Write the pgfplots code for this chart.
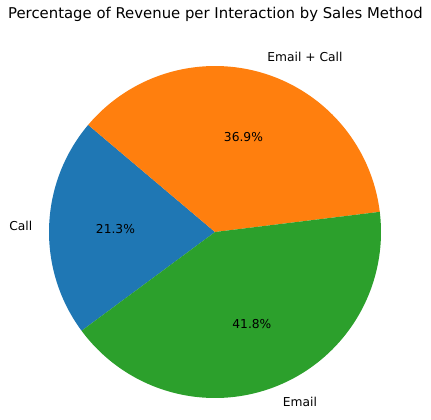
\documentclass[border=0pt]{standalone}
\usepackage{pgfplots}
\pgfplotsset{compat=1.18}
\usepackage{fontspec}
\setmainfont{DejaVu Sans}
\definecolor{c0}{HTML}{1F77B4}
\definecolor{c1}{HTML}{FF7F0E}
\definecolor{c2}{HTML}{2CA02C}
\begin{document}
\begin{tikzpicture}
% shares in percent
\def\pCall{21.3}
\def\pEC{36.9}
\def\pEmail{41.8}
\pgfmathsetmacro\aA{216.5}
\pgfmathsetmacro\aB{\aA-\pCall*3.6}
\pgfmathsetmacro\aC{\aB-\pEC*3.6}
\pgfmathsetmacro\aD{\aC-\pEmail*3.6}
\pgfmathsetmacro\mA{(\aA+\aB)/2}
\pgfmathsetmacro\mB{(\aB+\aC)/2}
\pgfmathsetmacro\mC{(\aC+\aD)/2}
\begin{axis}[hide axis, scale only axis, width=323.25pt, height=314.25pt,
  xmin=-1.2952, xmax=1.3012, ymin=-1.1265, ymax=1.3976, clip=false]
\path (rel axis cs:0,0) rectangle (rel axis cs:1,1);
\addplot[fill=c0, draw=none, domain=\aB:\aA, samples=90, variable=\t] ({cos(\t)},{sin(\t)}) -- (axis cs:0,0) -- cycle;
\addplot[fill=c1, draw=none, domain=\aC:\aB, samples=120, variable=\t] ({cos(\t)},{sin(\t)}) -- (axis cs:0,0) -- cycle;
\addplot[fill=c2, draw=none, domain=\aD:\aC, samples=140, variable=\t] ({cos(\t)},{sin(\t)}) -- (axis cs:0,0) -- cycle;
\node[font=\fontsize{9.2}{11}\selectfont, anchor=east, inner sep=0pt] at (axis cs:{1.1*cos(\mA)},{1.1*sin(\mA)}) {Call};
\node[font=\fontsize{9.2}{11}\selectfont, anchor=west, inner sep=0pt] at (axis cs:{1.1*cos(\mB)},{1.1*sin(\mB)}) {Email + Call};
\node[font=\fontsize{9.2}{11}\selectfont, anchor=west, inner sep=0pt] at (axis cs:{1.1*cos(\mC)},{1.1*sin(\mC)}) {Email};
\node[font=\fontsize{9.2}{11}\selectfont, inner sep=0pt] at (axis cs:{0.6*cos(\mA)},{0.6*sin(\mA)}) {21.3\%};
\node[font=\fontsize{9.2}{11}\selectfont, inner sep=0pt] at (axis cs:{0.6*cos(\mB)},{0.6*sin(\mB)}) {36.9\%};
\node[font=\fontsize{9.2}{11}\selectfont, inner sep=0pt] at (axis cs:{0.6*cos(\mC)},{0.6*sin(\mC)}) {41.8\%};
\node[font=\fontsize{11.15}{13}\selectfont, inner sep=0pt] at (axis cs:0.003,1.313) {Percentage of Revenue per Interaction by Sales Method};
\end{axis}
\end{tikzpicture}
\end{document}
